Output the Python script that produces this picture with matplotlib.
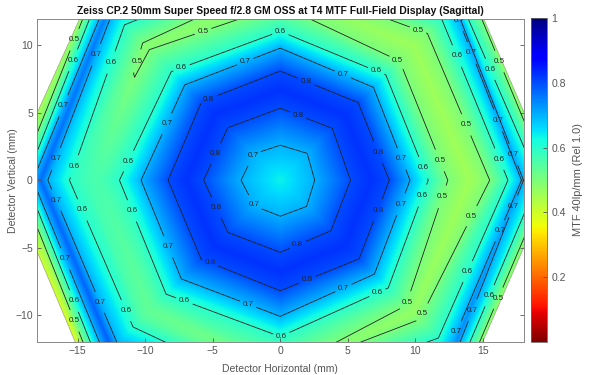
import matplotlib
matplotlib.use("Agg")
import matplotlib.pyplot as plt
import matplotlib.tri as mtri
import numpy as np

plt.rcParams['font.family'] = ['Liberation Sans', 'DejaVu Sans']

# rays of the full-field polar sampling, counter clockwise from +x (degrees)
ray_angles = [0, 45, 90, 135, 180, 225, 270, 315]
center_mtf = 0.635

# radius (mm) of each sample along each ray
r_000 = [2.55, 5.20, 6.70, 8.07, 9.60, 10.95, 12.40, 14.00, 15.50, 16.85, 17.85, 17.92, 18.00, 19.10, 19.86, 20.18]
r_045 = [2.82, 5.45, 6.80, 8.15, 9.75, 11.05, 12.50, 14.00, 15.40, 16.90, 18.16, 18.22, 18.30, 18.84, 19.87, 19.96]
r_090 = [2.60, 5.34, 6.70, 8.10, 9.80, 11.05, 13.00, 14.00, 14.90, 16.20, 17.40, 18.00, 18.50, 19.00, 19.50, 20.00]
r_135 = [2.76, 5.50, 6.90, 8.23, 10.00, 11.40, 13.70, 14.05, 14.40, 16.30, 17.57, 18.00, 18.36, 19.10, 19.60, 19.75]
r_180 = [2.90, 5.67, 7.00, 8.30, 10.30, 11.90, 12.90, 13.60, 14.40, 15.60, 17.20, 17.75, 18.30, 18.83, 19.38, 20.25]
r_225 = [2.70, 5.48, 6.90, 8.28, 10.35, 11.95, 13.00, 13.70, 14.50, 15.40, 17.07, 17.70, 18.36, 19.05, 19.60, 20.15]
r_270 = [2.67, 5.35, 6.80, 8.20, 10.10, 11.60, 14.20, 14.25, 14.30, 16.00, 17.20, 17.80, 18.30, 19.00, 19.60, 20.00]
r_315 = [2.75, 5.30, 6.80, 8.25, 9.85, 11.30, 13.15, 13.90, 14.60, 16.55, 17.70, 18.00, 18.30, 19.00, 19.70, 19.90]

# MTF of those samples
v_000 = [0.7, 0.8, 0.825, 0.8, 0.7, 0.6, 0.5, 0.455, 0.5, 0.6, 0.7, 0.71, 0.7, 0.6, 0.5, 0.47]
v_045 = [0.7, 0.8, 0.825, 0.8, 0.7, 0.6, 0.5, 0.46, 0.5, 0.6, 0.7, 0.71, 0.7, 0.6, 0.5, 0.47]
v_090 = [0.7, 0.8, 0.825, 0.8, 0.7, 0.6, 0.5, 0.48, 0.5, 0.6, 0.7, 0.74, 0.7, 0.6, 0.5, 0.45]
v_135 = [0.7, 0.8, 0.825, 0.8, 0.7, 0.6, 0.5, 0.482, 0.5, 0.6, 0.7, 0.75, 0.7, 0.6, 0.5, 0.44]
v_180 = [0.7, 0.8, 0.825, 0.8, 0.7, 0.6, 0.57, 0.56, 0.57, 0.6, 0.7, 0.77, 0.7, 0.6, 0.5, 0.42]
v_225 = [0.7, 0.8, 0.825, 0.8, 0.7, 0.6, 0.55, 0.53, 0.55, 0.6, 0.7, 0.78, 0.7, 0.6, 0.5, 0.38]
v_270 = [0.7, 0.8, 0.825, 0.8, 0.7, 0.6, 0.5, 0.495, 0.5, 0.6, 0.7, 0.74, 0.7, 0.6, 0.5, 0.45]
v_315 = [0.7, 0.8, 0.825, 0.8, 0.7, 0.6, 0.5, 0.47, 0.5, 0.6, 0.7, 0.74, 0.7, 0.6, 0.5, 0.47]

contour_levels = [0.5, 0.6, 0.7, 0.8]
cbar_ticks = [0.2, 0.4, 0.6, 0.8, 1.0]
cbar_ticklabels = ['0.2', '0.4', '0.6', '0.8', '1']
x_ticks = [-15, -10, -5, 0, 5, 10, 15]
y_ticks = [-10, -5, 0, 5, 10]

title_text = 'Zeiss CP.2 50mm Super Speed f/2.8 GM OSS at T4 MTF Full-Field Display (Sagittal)'

# where the inline contour labels sit
label_spots = [
    (-15.2, 10.4), (-15.2, 8.8), (-13.6, 9.3), (-12.6, 8.8), (-10.5, 8.8), (-5.7, 11.0),
    (0, 11.0), (-7.3, 8.3), (-2.6, 8.8), (-5.3, 6.0), (-16, 5.5), (-8.4, 4.2), (1.3, 4.7),
    (-16.6, 1.6), (-15.2, 1.0), (-11.2, 1.4), (-4.7, 1.9), (-1.9, 1.7),
    (10.2, 11.2), (8.7, 9.0), (13.05, 9.2), (14.1, 9.4), (16.1, 8.7), (15.5, 8.2), (7.1, 8.1),
    (4.6, 7.7), (1.9, 7.2), (13.8, 4.15), (16.1, 4.4), (7.2, 2.05), (9, 1.6),
    (10.6, 0.95), (11.9, 1.55), (16.2, 1.55), (17.25, 1.9), (12.9, 11.6),
    (-16.6, -1.5), (-14.65, -2.2), (-11, -2.3), (-4.8, -2.1), (-2.1, -2.0), (-8.3, -4.95),
    (1.3, -4.8), (-16, -5.9), (-5.2, -6.2), (-7.1, -9.0), (-2.4, -9.25), (-15.2, -8.9),
    (-13.4, -9.1), (-11.5, -9.75), (-15.2, -10.4), (0.1, -11.6),
    (7.2, -2.2), (9, -1.85), (10.6, -1.2), (12.15, -1.35), (14.2, -2.7), (17.3, -2.0),
    (16.25, -3.75), (13.9, -6.8), (2, -7.4), (4.7, -8.1), (7.2, -8.4), (9.4, -9.1),
    (10.6, -9.95), (14.2, -9.6), (15.2, -8.3), (16.4, -9.0), (13.05, -11.25),
]

radii = np.array([r_000, r_045, r_090, r_135, r_180, r_225, r_270, r_315])
values = np.array([v_000, v_045, v_090, v_135, v_180, v_225, v_270, v_315])
n_rays, n_rings = radii.shape
angles = np.deg2rad(ray_angles)

# polar mesh: point 0 is the centre, then ring samples ray by ray
px = np.concatenate([[0.0], (radii * np.cos(angles)[:, None]).ravel()])
py = np.concatenate([[0.0], (radii * np.sin(angles)[:, None]).ravel()])
pz = np.concatenate([[center_mtf], values.ravel()])


def node(ray, ring):
    return 1 + (ray % n_rays) * n_rings + ring


triangles = []
for ray in range(n_rays):
    triangles.append([0, node(ray, 0), node(ray + 1, 0)])
    for ring in range(n_rings - 1):
        triangles.append([node(ray, ring), node(ray, ring + 1), node(ray + 1, ring + 1)])
        triangles.append([node(ray, ring), node(ray + 1, ring + 1), node(ray + 1, ring)])
mesh = mtri.Triangulation(px, py, triangles)

# fine raster of the surface, masked outside the measured field
grid_x = np.linspace(-18, 18, 973)
grid_y = np.linspace(-12, 12, 649)
gx, gy = np.meshgrid(grid_x, grid_y)
surface = mtri.LinearTriInterpolator(mesh, pz)(gx, gy)

fig = plt.figure(figsize=(6, 3.75), dpi=100)
ax = fig.add_axes([37 / 600, 33 / 375, 486.5 / 600, 323.5 / 375])

image = ax.imshow(surface, extent=[-18, 18, -12, 12], origin='lower', aspect='auto',
                  cmap='jet_r', vmin=0, vmax=1, interpolation='bilinear')

lines = ax.tricontour(mesh, pz, levels=contour_levels, colors='#222222', linewidths=0.6)
labels = ax.clabel(lines, fmt='%.1f', fontsize=5.8, inline=True, inline_spacing=2, manual=label_spots)
for label in labels:
    label.set_rotation(0)
    label.set_color('#222222')

grey = '#555555'
ax.set_xlim(-18, 18)
ax.set_ylim(-12, 12)
ax.set_xticks(x_ticks)
ax.set_yticks(y_ticks)
ax.tick_params(direction='in', length=3, width=0.6, labelsize=7.5, colors=grey, top=False, right=True, pad=3)
for side in ax.spines.values():
    side.set_color('#888888')
    side.set_linewidth(0.7)
ax.set_xlabel('Detector Horizontal (mm)', fontsize=7.5, color=grey, labelpad=6)
ax.set_ylabel('Detector Vertical (mm)', fontsize=7.6, color=grey, labelpad=-2)
ax.set_title(title_text, fontsize=7.5, fontweight='bold', color='#111111', pad=3)

cax = fig.add_axes([531 / 600, 33 / 375, 16 / 600, 324 / 375])
cbar = fig.colorbar(image, cax=cax)
cbar.set_ticks(cbar_ticks)
cbar.set_ticklabels(cbar_ticklabels)
cbar.ax.tick_params(direction='in', length=3, width=0.6, labelsize=7.5, colors=grey, pad=3)
cbar.outline.set_edgecolor('#666666')
cbar.outline.set_linewidth(0.6)
cbar.set_label('MTF 40lp/mm (Rel 1.0)', fontsize=7.9, color=grey, labelpad=5)

fig.savefig('out.png', dpi=100)
